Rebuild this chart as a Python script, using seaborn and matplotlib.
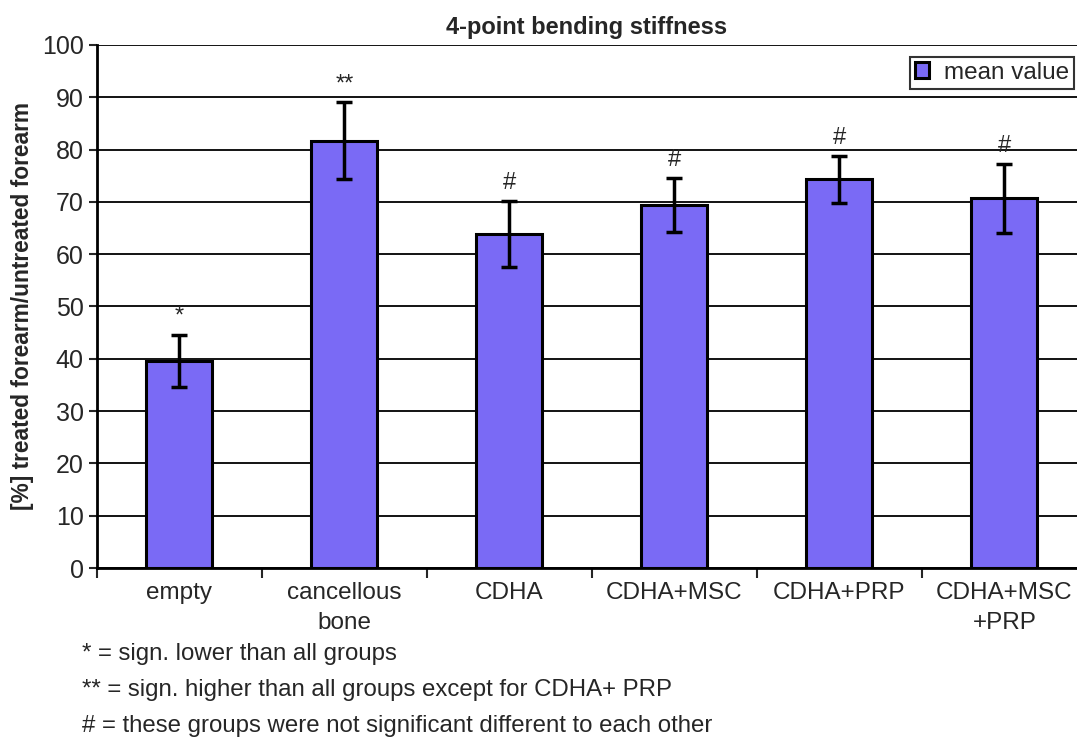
import numpy as np
import pandas as pd
import matplotlib
matplotlib.use("Agg")
import matplotlib.pyplot as plt
import seaborn as sns

# values
groups = ["empty", "cancellous\nbone", "CDHA", "CDHA+MSC", "CDHA+PRP", "CDHA+MSC\n+PRP"]
mean_value = [39.6, 81.7, 63.9, 69.4, 74.3, 70.7]
sd_value = [5.0, 7.4, 6.3, 5.2, 4.5, 6.6]
marks = ["*", "**", "#", "#", "#", "#"]

footnotes = [
    "* = sign. lower than all groups",
    "** = sign. higher than all groups except for CDHA+ PRP",
    "# = these groups were not significant different to each other",
]

sns.set_style("white")
plt.rcParams["font.family"] = ["Liberation Sans", "DejaVu Sans"]

df = pd.DataFrame({"group": groups, "mean": mean_value, "sd": sd_value})
bar_color = "#7A6AF5"

fig = plt.figure(figsize=(10.77, 7.42), dpi=100)
ax = fig.add_axes([0.090, 0.2345, 0.910, 0.705])

# grid lines first so bars cover them
ax.set_axisbelow(True)
ax.yaxis.grid(True, color="black", linewidth=1.3)

sns.barplot(data=df, x="group", y="mean", color=bar_color, saturation=1, width=0.4,
            edgecolor="black", linewidth=2.2, errorbar=None, ax=ax, label="mean value")

xs = np.arange(len(groups))
ax.errorbar(xs, df["mean"], yerr=df["sd"], fmt="none", ecolor="black",
            elinewidth=2.5, capsize=6, capthick=2.5, zorder=5)

for x, m, s, t in zip(xs, mean_value, sd_value, marks):
    ax.text(x, m + s + 1.3, t, ha="center", va="bottom", fontsize=17)

ax.set_ylim(0, 100)
ax.set_yticks(range(0, 101, 10))
ax.set_xlim(-0.5, 5.44)
ax.set_xlabel("")
ax.set_ylabel("[%] treated forearm/untreated forearm", fontsize=16.4, fontweight="bold", labelpad=6)
ax.set_title("4-point bending stiffness", fontsize=17, fontweight="bold", pad=8)

for sp in ["top", "right"]:
    ax.spines[sp].set_visible(False)
for sp in ["left", "bottom"]:
    ax.spines[sp].set_linewidth(2)
    ax.spines[sp].set_color("black")

ax.tick_params(axis="y", length=6, width=1.5, labelsize=18, direction="out", left=True)
ax.tick_params(axis="x", length=0, labelsize=17.5, pad=10)
for lbl in ax.get_xticklabels():
    lbl.set_linespacing(1.45)
# category boundary ticks on the x axis
ax.set_xticks(np.arange(-0.5, 5.5, 1.0), minor=True)
ax.tick_params(axis="x", which="minor", length=7, width=1.5, bottom=True)

leg = ax.legend(loc="upper right", fontsize=17.5, frameon=True, fancybox=False,
                handlelength=0.6, handleheight=0.6, borderpad=0.2, handletextpad=0.6,
                borderaxespad=0, bbox_to_anchor=(0.997, 0.977))
leg.get_frame().set_edgecolor("black")
leg.get_frame().set_linewidth(1.5)

# footnotes under the chart, kept inside the canvas
for i, t in enumerate(footnotes):
    fig.text(0.076, 0.1186 - i * 0.0485, t, fontsize=17.3, ha="left", va="center")

fig.savefig("out.png", dpi=100)
